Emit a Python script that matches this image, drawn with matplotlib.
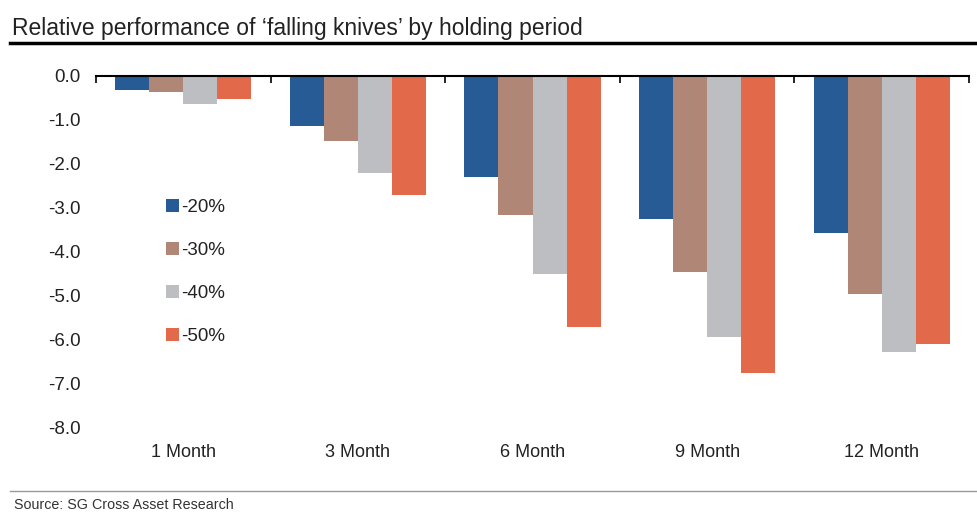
import numpy as np
import matplotlib.pyplot as plt

plt.rcParams['font.family'] = ['Liberation Sans', 'DejaVu Sans']

# Data
periods = ['1 Month', '3 Month', '6 Month', '9 Month', '12 Month']
series_names = ['-20%', '-30%', '-40%', '-50%']
drop_20 = [-0.32, -1.14, -2.31, -3.27, -3.58]
drop_30 = [-0.37, -1.48, -3.17, -4.47, -4.96]
drop_40 = [-0.64, -2.22, -4.52, -5.96, -6.30]
drop_50 = [-0.53, -2.72, -5.71, -6.78, -6.10]
colors = ['#275b95', '#b08776', '#bdbec2', '#e2694a']

fig = plt.figure(figsize=(9.77, 5.12), dpi=100)
ax = fig.add_axes([96 / 977, 85 / 512, (969 - 96) / 977, (427 - 76) / 512])

x = np.arange(len(periods))
w = 0.195
for i, (vals, name) in enumerate(zip([drop_20, drop_30, drop_40, drop_50], series_names)):
    ax.bar(x + (i - 1.5) * w, vals, width=w, color=colors[i], label=name)

ax.set_xlim(-0.5, len(periods) - 0.5)
ax.set_ylim(-8, 0)
ax.set_yticks(np.arange(0, -8.5, -1.0))
ax.set_yticklabels(['%.1f' % v for v in np.arange(0, -8.5, -1.0)], fontsize=13.5, color='#222222')
ax.tick_params(axis='y', length=0, pad=11)

# category labels below, boundary ticks on the zero line
ax.set_xticks(x)
ax.set_xticklabels(periods, fontsize=13, color='#222222')
ax.tick_params(axis='x', which='major', length=0, pad=12)
ax.set_xticks(np.arange(-0.5, len(periods)), minor=True)
ax.tick_params(axis='x', which='minor', top=True, bottom=False, direction='in', length=5, width=1.2)

for s in ['left', 'right', 'bottom']:
    ax.spines[s].set_visible(False)
ax.spines['top'].set_linewidth(1.5)

leg = ax.legend(loc='upper left', bbox_to_anchor=(0.072, 0.67), frameon=False,
                fontsize=13.5, handlelength=0.65, handleheight=0.65, handletextpad=0.15,
                labelspacing=1.38, borderaxespad=0)
for t in leg.get_texts():
    t.set_color('#222222')

# title and source
fig.text(12 / 977, 1 - 29 / 512, "Relative performance of \u2018falling knives\u2019 by holding period",
         fontsize=16.5, color='#222222', va='center', ha='left')
fig.add_artist(plt.Line2D([10 / 977, 1.0], [1 - 43 / 512] * 2, color='black', linewidth=2.5))
fig.add_artist(plt.Line2D([10 / 977, 1.0], [1 - 491 / 512] * 2, color='#999999', linewidth=1))
fig.text(14 / 977, 1 - 505 / 512, 'Source: SG Cross Asset Research', fontsize=10.3,
         color='#333333', va='center', ha='left')

fig.savefig('out.png', dpi=100)
